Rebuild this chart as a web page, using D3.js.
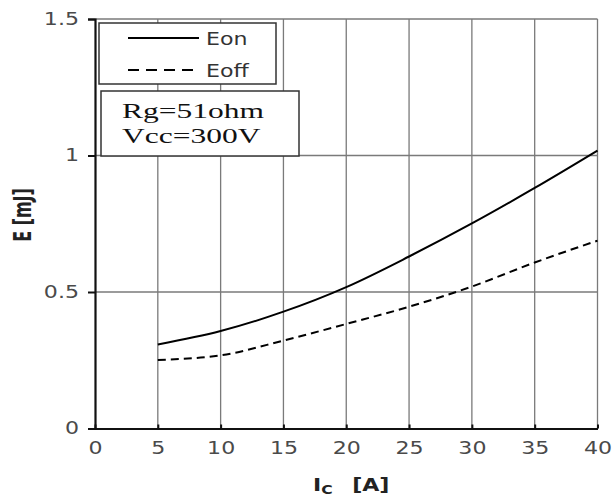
<!DOCTYPE html>
<html>
<head>
<meta charset="utf-8">
<script src="https://cdn.jsdelivr.net/npm/d3@7"></script>
<style>
  body { margin: 0; background: #fff; }
  svg { display: block; }
</style>
</head>
<body>
<svg id="chart" width="613" height="498"></svg>
<script>
// collector current [A]
const currents = [5, 10, 15, 20, 25, 30, 35, 40];
// switching energies [mJ]
const eOn  = [0.308, 0.357, 0.428, 0.518, 0.630, 0.751, 0.881, 1.018];
const eOff = [0.251, 0.268, 0.322, 0.383, 0.446, 0.520, 0.608, 0.688];

const xTicks = [0, 5, 10, 15, 20, 25, 30, 35, 40];
const yTicks = [0, 0.5, 1, 1.5];
const legendLabels = ['Eon', 'Eoff'];
const noteLines = ['Rg=51ohm', 'Vcc=300V'];

const STRETCH = 1.3;   // source picture is stretched sideways

const svg = d3.select('#chart');
const x = d3.scaleLinear().domain([0, 40]).range([95, 597.5]);
const y = d3.scaleLinear().domain([0, 1.5]).range([428.5, 19]);

// grid
const grid = svg.append('g').attr('stroke', '#7a7a7a').attr('stroke-width', 1.3);
grid.selectAll('line.v').data(xTicks.slice(1)).join('line')
    .attr('x1', d => x(d)).attr('x2', d => x(d))
    .attr('y1', y(0)).attr('y2', y(1.5));
grid.selectAll('line.h').data(yTicks.slice(1)).join('line')
    .attr('x1', x(0)).attr('x2', x(40))
    .attr('y1', d => y(d)).attr('y2', d => y(d));

// axes
const yAxis = svg.append('g')
    .attr('transform', `translate(${x(0)},0)`)
    .call(d3.axisLeft(y).tickValues(yTicks).tickFormat(d3.format('~g'))
        .tickSize(7).tickPadding(9));
const xAxis = svg.append('g')
    .attr('transform', `translate(0,${y(0)})`)
    .call(d3.axisBottom(x).tickValues(xTicks).tickFormat(d3.format('d'))
        .tickSizeInner(-4).tickSizeOuter(0).tickPadding(13));

[xAxis, yAxis].forEach(ax => {
    ax.select('.domain').attr('stroke', '#111').attr('stroke-width', 2.2);
    ax.selectAll('.tick line').attr('stroke', '#111').attr('stroke-width', 2);
    ax.selectAll('.tick text')
        .attr('font-family', 'DejaVu Sans')
        .attr('font-size', 17)
        .attr('fill', '#4a4a4a')
        .attr('transform', `scale(${STRETCH},1)`);
});
yAxis.selectAll('.tick text').attr('x', -16 / STRETCH);

// curves
const line = d3.line()
    .x((d, i) => x(currents[i]))
    .y(d => y(d))
    .curve(d3.curveMonotoneX);

svg.append('path').datum(eOn)
    .attr('d', line).attr('fill', 'none')
    .attr('stroke', '#000').attr('stroke-width', 2);
svg.append('path').datum(eOff)
    .attr('d', line).attr('fill', 'none')
    .attr('stroke', '#000').attr('stroke-width', 2)
    .attr('stroke-dasharray', '8,5');

// legend box
svg.append('rect')
    .attr('x', 99).attr('y', 23).attr('width', 177).attr('height', 61)
    .attr('fill', '#fff').attr('stroke', '#333').attr('stroke-width', 1.5);
const leg = svg.append('g');
legendLabels.forEach((lab, i) => {
    const ly = 38 + i * 32;
    leg.append('line')
        .attr('x1', 128).attr('x2', 199).attr('y1', ly).attr('y2', ly)
        .attr('stroke', '#000').attr('stroke-width', 2)
        .attr('stroke-dasharray', i === 0 ? null : '11,7');
    leg.append('text')
        .attr('transform', `translate(206,${ly + 7}) scale(${STRETCH},1)`)
        .attr('font-family', 'DejaVu Sans').attr('font-size', 17)
        .attr('fill', '#333')
        .text(lab);
});

// conditions box
svg.append('rect')
    .attr('x', 101).attr('y', 91).attr('width', 198).attr('height', 65)
    .attr('fill', '#fff').attr('stroke', '#333').attr('stroke-width', 1.5);
noteLines.forEach((t, i) => {
    svg.append('text')
        .attr('transform', `translate(122,${118 + i * 25}) scale(1.5,1)`)
        .attr('font-family', 'Liberation Serif').attr('font-size', 21)
        .attr('fill', '#111')
        .text(t);
});

// axis titles
svg.append('text')
    .attr('transform', `translate(31,215) scale(1.5,1) rotate(-90)`)
    .attr('text-anchor', 'middle')
    .attr('font-family', 'DejaVu Sans').attr('font-size', 16)
    .attr('font-weight', 'bold')
    .attr('fill', '#222')
    .text('E [mJ]');

const xt = svg.append('text')
    .attr('transform', `translate(313,491) scale(${STRETCH},1)`)
    .attr('font-family', 'DejaVu Sans').attr('font-size', 17)
    .attr('font-weight', 'bold')
    .attr('fill', '#222');
xt.append('tspan').text('I');
xt.append('tspan').attr('font-size', 12).attr('dy', 3).text('C');
xt.append('tspan').attr('dx', 15).attr('dy', -3).text('[A]');
</script>
</body>
</html>
